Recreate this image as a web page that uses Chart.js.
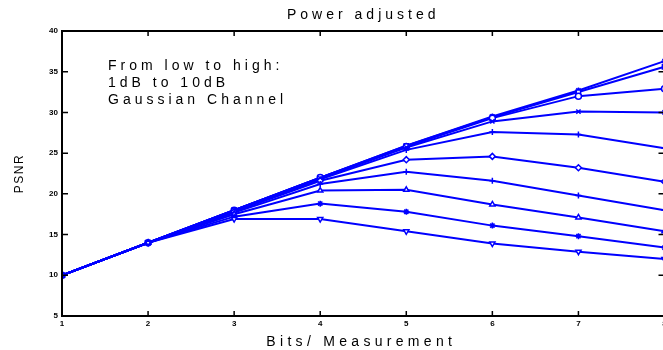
<!DOCTYPE html>
<html>
<head>
<meta charset="utf-8">
<title>Power adjusted</title>
<script src="https://cdn.jsdelivr.net/npm/chart.js@4/dist/chart.umd.min.js"></script>
<style>
  html, body { margin: 0; padding: 0; background: #fff; overflow: hidden; }
  canvas { display: block; }
</style>
</head>
<body>
<canvas id="psnr" width="670" height="350"></canvas>
<script>
// bits per measurement on the x axis
const bits = [1, 2, 3, 4, 5, 6, 7, 8];

// PSNR per channel SNR, from 1dB up to 10dB
const snr1dB  = [10, 14, 16.9, 16.9, 15.4, 13.9, 12.9, 12.0];
const snr2dB  = [10, 14, 17.2, 18.8, 17.8, 16.1, 14.8, 13.4];
const snr3dB  = [10, 14, 17.5, 20.4, 20.5, 18.7, 17.1, 15.4];
const snr4dB  = [10, 14, 17.7, 21.2, 22.7, 21.6, 19.8, 18.0];
const snr5dB  = [10, 14, 17.8, 21.6, 24.2, 24.6, 23.2, 21.5];
const snr6dB  = [10, 14, 17.9, 21.8, 25.4, 27.6, 27.3, 25.6];
const snr7dB  = [10, 14, 18.0, 21.9, 25.7, 28.9, 30.1, 30.0];
const snr8dB  = [10, 14, 18.0, 22.0, 25.8, 29.3, 32.0, 32.9];
const snr9dB  = [10, 14, 18.0, 22.0, 25.9, 29.4, 32.5, 35.6];
const snr10dB = [10, 14, 18.0, 22.0, 25.9, 29.5, 32.7, 36.3];

const series = [snr1dB, snr2dB, snr3dB, snr4dB, snr5dB, snr6dB, snr7dB, snr8dB, snr9dB, snr10dB];
const markers = ['triangle', 'star', 'triangle', 'cross', 'rectRot', 'cross', 'crossRot', 'circle', 'rect', 'star'];
const rotations = [180, 0, 0, 0, 0, 0, 0, 0, 0, 0];

const xTicks = [1, 2, 3, 4, 5, 6, 7, 8];
const yTicks = [5, 10, 15, 20, 25, 30, 35, 40];

const notes = ['From low to high:', '1dB to 10dB', 'Gaussian Channel'];

// text drawn with extra letter spacing, like the exported figure
function spacedText(ctx, text, x, y, size, spacing, align) {
  ctx.save();
  ctx.font = size + 'px Arial, "Liberation Sans", sans-serif';
  ctx.letterSpacing = spacing + 'px';
  ctx.fillStyle = '#000';
  ctx.textAlign = align;
  ctx.textBaseline = 'middle';
  ctx.fillText(text, x, y);
  ctx.restore();
}

// box, inward tick marks, titles and the legend note
const matlabAxes = {
  id: 'matlabAxes',
  afterDatasetsDraw(chart) {
    const { ctx, chartArea: a, scales: { x, y } } = chart;
    ctx.save();
    ctx.strokeStyle = '#000';
    ctx.lineWidth = 2;
    ctx.strokeRect(a.left, a.top, a.right - a.left, a.bottom - a.top);
    ctx.lineWidth = 1.5;
    ctx.beginPath();
    xTicks.forEach(v => {
      const px = x.getPixelForValue(v);
      ctx.moveTo(px, a.bottom); ctx.lineTo(px, a.bottom - 5);
      ctx.moveTo(px, a.top); ctx.lineTo(px, a.top + 5);
    });
    yTicks.forEach(v => {
      const py = y.getPixelForValue(v);
      ctx.moveTo(a.left, py); ctx.lineTo(a.left + 6, py);
      ctx.moveTo(a.right, py); ctx.lineTo(a.right - 6, py);
    });
    ctx.stroke();
    ctx.restore();

    const cx = (a.left + a.right) / 2;
    spacedText(ctx, 'Power adjusted', cx, 15, 14, 4, 'center');
    spacedText(ctx, 'Bits/ Measurement', cx - 2, 342, 14, 4.3, 'center');
    notes.forEach((t, i) => spacedText(ctx, t, 108, 66 + i * 17, 14, 4, 'left'));

    ctx.save();
    ctx.translate(20, (a.top + a.bottom) / 2);
    ctx.rotate(-Math.PI / 2);
    spacedText(ctx, 'PSNR', 0, 0, 12, 1.5, 'center');
    ctx.restore();
  }
};

new Chart(document.getElementById('psnr'), {
  type: 'line',
  data: {
    datasets: series.map((vals, i) => ({
      label: (i + 1) + 'dB',
      data: bits.map((b, j) => ({ x: b, y: vals[j] })),
      borderColor: '#0000ff',
      borderWidth: 2,
      pointStyle: markers[i],
      rotation: rotations[i],
      pointRadius: 3,
      pointBorderWidth: 1.5,
      pointBorderColor: '#0000ff',
      pointBackgroundColor: '#fff',
      tension: 0
    }))
  },
  options: {
    responsive: false,
    animation: false,
    layout: { padding: { top: 31, right: 2, left: 0, bottom: 0 } },
    plugins: {
      legend: { display: false },
      title: { display: false },
      tooltip: { enabled: false }
    },
    scales: {
      x: {
        type: 'linear',
        min: 1,
        max: 8,
        afterFit: s => { s.height = 34; },
        afterBuildTicks: s => { s.ticks = xTicks.map(v => ({ value: v })); },
        grid: { display: false, drawTicks: false },
        border: { display: false },
        ticks: { padding: 3, color: '#000', font: { size: 8, family: 'Arial', weight: 'bold' }, maxRotation: 0 }
      },
      y: {
        min: 5,
        max: 40,
        afterFit: s => { s.width = 62; },
        afterBuildTicks: s => { s.ticks = yTicks.map(v => ({ value: v })); },
        grid: { display: false, drawTicks: false },
        border: { display: false },
        ticks: { padding: 4, color: '#000', font: { size: 8, family: 'Arial', weight: 'bold' } }
      }
    }
  },
  plugins: [matlabAxes]
});
</script>
</body>
</html>
